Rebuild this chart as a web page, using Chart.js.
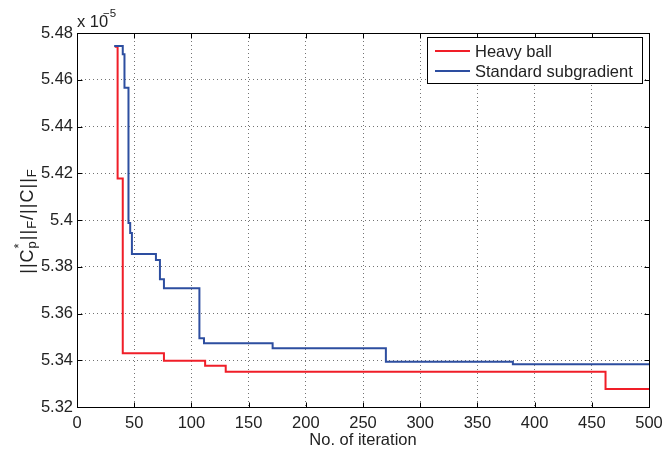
<!DOCTYPE html>
<html>
<head>
<meta charset="utf-8">
<script src="https://cdn.jsdelivr.net/npm/chart.js@4/dist/chart.umd.min.js"></script>
<style>
  body { margin: 0; background: white; }
  canvas { display: block; }
</style>
</head>
<body>
<canvas id="mychart" width="663" height="452"></canvas>
<script>
// iteration at which each step happens, and the value after the step (x 1e-5)
const heavyBallIter = [33, 35.5, 40, 76, 112, 130, 462, 500];
const heavyBallValues = [5.4741, 5.4178, 5.3430, 5.3398, 5.3377, 5.3351, 5.3277, 5.3277];
const subgradientIter = [32.5, 40, 41.5, 45, 46.5, 48, 69, 72.5, 76, 107, 111, 171, 270, 381, 500];
const subgradientValues = [5.4744, 5.4709, 5.4566, 5.3987, 5.3944, 5.3855, 5.3829, 5.3746, 5.3708, 5.3494, 5.3473, 5.3451, 5.3394, 5.3383, 5.3383];

const xTicks = [0, 50, 100, 150, 200, 250, 300, 350, 400, 450, 500];
const yTicks = [5.32, 5.34, 5.36, 5.38, 5.4, 5.42, 5.44, 5.46, 5.48];
const yTickLabels = ["5.32", "5.34", "5.36", "5.38", "5.4", "5.42", "5.44", "5.46", "5.48"];
const seriesNames = ["Heavy ball", "Standard subgradient"];
const seriesColors = ["rgb(240, 30, 40)", "rgb(45, 78, 160)"];

const fontFamily = "'Liberation Sans', Arial, Helvetica, sans-serif";
const textColor = "#222";

function toPoints(xs, ys) {
  return xs.map((x, i) => ({ x: x, y: ys[i] }));
}

function drawFrame(chart) {
  let ctx = chart.ctx;
  let area = chart.chartArea;
  let xScale = chart.scales.x;
  let yScale = chart.scales.y;
  let left = Math.round(area.left) + 0.5;
  let right = Math.round(area.right) + 0.5;
  let top = Math.round(area.top) + 0.5;
  let bottom = Math.round(area.bottom) + 0.5;
  let tickLen = 5;

  ctx.save();
  ctx.strokeStyle = "#000";
  ctx.lineWidth = 1;
  ctx.strokeRect(left, top, right - left, bottom - top);

  ctx.beginPath();
  for (let v of xTicks) {
    let px = Math.round(xScale.getPixelForValue(v)) + 0.5;
    ctx.moveTo(px, bottom); ctx.lineTo(px, bottom - tickLen);
    ctx.moveTo(px, top); ctx.lineTo(px, top + tickLen);
  }
  for (let v of yTicks) {
    let py = Math.round(yScale.getPixelForValue(v)) + 0.5;
    ctx.moveTo(left, py); ctx.lineTo(left + tickLen, py);
    ctx.moveTo(right, py); ctx.lineTo(right - tickLen, py);
  }
  ctx.stroke();
  ctx.restore();
}

function drawLegend(chart) {
  let ctx = chart.ctx;
  let boxLeft = 427, boxTop = 37, boxWidth = 215, boxHeight = 46;
  let baselines = [57, 77];

  ctx.save();
  ctx.fillStyle = "white";
  ctx.fillRect(boxLeft, boxTop, boxWidth, boxHeight);
  ctx.strokeStyle = "#000";
  ctx.lineWidth = 1;
  ctx.strokeRect(boxLeft + 0.5, boxTop + 0.5, boxWidth, boxHeight);

  ctx.font = "16.5px " + fontFamily;
  ctx.textBaseline = "alphabetic";
  for (let i = 0; i < seriesNames.length; i++) {
    let lineY = baselines[i] - 6;
    ctx.strokeStyle = seriesColors[i];
    ctx.lineWidth = 2;
    ctx.beginPath();
    ctx.moveTo(435, lineY);
    ctx.lineTo(470, lineY);
    ctx.stroke();
    ctx.fillStyle = textColor;
    ctx.fillText(seriesNames[i], 475, baselines[i]);
  }
  ctx.restore();
}

function drawLabels(chart) {
  let ctx = chart.ctx;
  let area = chart.chartArea;
  ctx.save();
  ctx.fillStyle = textColor;

  // x axis title
  ctx.font = "16.5px " + fontFamily;
  ctx.textAlign = "center";
  ctx.textBaseline = "alphabetic";
  ctx.fillText("No. of iteration", (area.left + area.right) / 2, 445);

  // exponent above the y axis
  ctx.textAlign = "left";
  ctx.fillText("x 10", 77, 27);
  ctx.font = "11.5px " + fontFamily;
  ctx.fillText("\u22125", 103, 17);

  // y axis title ||C*p||F/||C||F, rotated
  let mainFont = "18px " + fontFamily;
  let smallFont = "13px " + fontFamily;
  let pieces = [
    { text: "||C", font: mainFont, dy: 0 },
    { text: "*", font: smallFont, dy: -10, stack: true },
    { text: "p", font: smallFont, dy: 3 },
    { text: "||", font: mainFont, dy: 0 },
    { text: "F", font: smallFont, dy: 3 },
    { text: "/||C||", font: mainFont, dy: 0 },
    { text: "F", font: smallFont, dy: 3 }
  ];
  ctx.letterSpacing = "1px";
  let total = 0;
  for (let p of pieces) {
    ctx.font = p.font;
    p.width = ctx.measureText(p.text).width;
    if (!p.stack) total += p.width;
  }
  ctx.translate(33, 221);
  ctx.rotate(-Math.PI / 2);
  let x = -total / 2;
  for (let p of pieces) {
    ctx.font = p.font;
    ctx.fillText(p.text, x, p.dy);
    if (!p.stack) x += p.width;
  }
  ctx.restore();
}

const framePlugin = {
  id: "frame",
  afterDatasetsDraw(chart) {
    drawFrame(chart);
    drawLegend(chart);
  },
  afterDraw(chart) {
    drawLabels(chart);
  }
};

let ctx = document.getElementById("mychart").getContext("2d");
let myChart = new Chart(ctx, {
  type: "line",
  data: {
    datasets: [{
      label: seriesNames[0],
      data: toPoints(heavyBallIter, heavyBallValues),
      borderColor: seriesColors[0],
      borderWidth: 2,
      pointRadius: 0,
      stepped: true,
      fill: false,
      order: 2
    }, {
      label: seriesNames[1],
      data: toPoints(subgradientIter, subgradientValues),
      borderColor: seriesColors[1],
      borderWidth: 2,
      pointRadius: 0,
      stepped: true,
      fill: false,
      order: 1
    }]
  },
  options: {
    responsive: false,
    animation: false,
    devicePixelRatio: 1,
    layout: { padding: { top: 33, right: 0, bottom: 0, left: 0 } },
    plugins: {
      legend: { display: false },
      tooltip: { enabled: false }
    },
    scales: {
      x: {
        type: "linear",
        min: 0,
        max: 500,
        afterBuildTicks: scale => { scale.ticks = xTicks.map(v => ({ value: v })); },
        afterFit: scale => {
          scale.height = 45;
          scale.paddingLeft = 0;
          scale.paddingRight = 14;
        },
        grid: { color: "rgba(0, 0, 0, 0.55)", lineWidth: 1, drawTicks: false },
        border: { display: false, dash: [1, 3] },
        ticks: {
          padding: 7,
          maxRotation: 0,
          autoSkip: false,
          color: textColor,
          font: { family: fontFamily, size: 16.5 }
        }
      },
      y: {
        type: "linear",
        min: 5.32,
        max: 5.48,
        afterBuildTicks: scale => { scale.ticks = yTicks.map(v => ({ value: v })); },
        afterFit: scale => { scale.width = 77; },
        grid: { color: "rgba(0, 0, 0, 0.55)", lineWidth: 1, drawTicks: false },
        border: { display: false, dash: [1, 3] },
        ticks: {
          padding: 4,
          autoSkip: false,
          color: textColor,
          font: { family: fontFamily, size: 16.5 },
          callback: (value, index) => yTickLabels[index]
        }
      }
    }
  },
  plugins: [framePlugin]
});
</script>
</body>
</html>
